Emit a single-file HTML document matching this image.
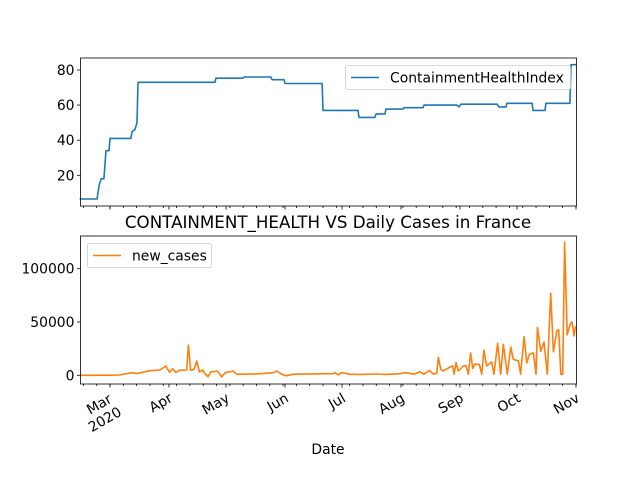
<!DOCTYPE html>
<html><head><meta charset="utf-8"><style>
body{margin:0;background:#fff}
svg text{font-family:"DejaVu Sans","Liberation Sans",sans-serif;fill:#000}
</style></head><body>
<svg width="640" height="480" viewBox="0 0 640 480" id="fig">
<rect x="0" y="0" width="640" height="480" fill="#fff"/>
<g id="topAxes"></g>
<g id="botAxes"></g>
<text x="328" y="228" font-size="16.7" text-anchor="middle">CONTAINMENT_HEALTH VS Daily Cases in France</text>
<text x="328" y="454" font-size="13.9" text-anchor="middle">Date</text>
</svg>
<script>
// days since 2020-03-01
const chiDays = [-16,-6.8,-5.8,-4.7,-3.2,-2.1,-0.5,0,11,11.6,13.1,14.2,14.7,55.2,55.7,69.9,70.5,84.6,85.2,91.5,92,111.5,112,130.4,130.9,139.3,139.9,144.6,145.1,154,154.6,164.6,165.1,182.4,183.5,184.5,203.5,204.5,208.2,208.7,221.9,222.4,228.7,229.2,241.8,242.4,245];
const chiValues = [6.5,6.5,14,18,18,34,34,41,41,45,46,50,73,73,75.3,75.3,76,76,74.5,74.5,72.3,72.3,57,57,53,53,55,55,57.7,57.7,58.5,58.5,60,60,59,60.5,60.5,59,59,61,61,57,57,61,61,83,83];
const caseDays = [-16,0,5,11.4,14,21,26.3,29.4,31.2,33,34.7,36.4,40.3,41.2,42.4,44.2,45.6,47,48.7,50.1,51.5,52.9,56.4,57.5,58.7,60.5,64.8,66.6,71.9,78.9,85.9,87.6,90.3,92.5,96.4,117.4,118.3,120,121.8,126,131.4,140,145,152.5,155,160,163,165,168,170,171.8,172.6,173.9,175.2,176.7,178.8,180.2,180.9,181.9,183.1,185.7,187.2,188.4,189.6,190.7,191.9,194.2,195.4,196.6,198,200.7,201.9,203.8,205.4,206.8,208.9,210.7,212,214.7,215.9,217.7,219.1,220.5,222.6,224,224.7,226.5,228.2,229.9,231.7,233.1,234.9,235.9,237,238,239,240.4,241.9,242.9,244,244.7];
const caseValues = [0,100,300,2400,1600,4300,5000,8700,3000,6000,2500,4700,5000,28400,4700,5600,13400,3000,5000,1200,-1300,3000,4000,1600,-1500,2400,4000,1000,1000,1500,2400,4000,1000,-500,1000,1500,2500,500,2500,1000,800,1200,800,1500,2500,1000,3500,1000,4500,1000,2000,16500,5600,4000,5600,7800,8700,1000,11800,4000,8700,9000,1000,21000,6500,10500,10000,1000,23700,8700,12500,1000,30000,1000,29000,1000,26500,15000,13500,1000,36200,11500,19800,21000,1000,44700,22500,31200,1000,77000,22000,41500,43000,1000,1000,125000,38000,47800,50000,37000,46000];
const monthDays = [0,31,61,92,122,153,184,214,245];
const monthLabels = ["Mar","Apr","May","Jun","Jul","Aug","Sep","Oct","Nov"];
const topTicks = [20,40,60,80];
const botTicks = [0,50000,100000];
const botTickLabels = ["0","50000","100000"];

const NS="http://www.w3.org/2000/svg";
const L=80.5,R=576.5;
const FS=13.9;
const X=d=>110+d*1.902;
const YT=v=>70+(80-v)*1.755;
const YB=v=>375.3-v/50000*53.3;
function mk(p,tag,attrs,txt){const e=document.createElementNS(NS,tag);for(const k in attrs)e.setAttribute(k,attrs[k]);if(txt!==undefined)e.textContent=txt;p.appendChild(e);return e;}
const topG=document.getElementById('topAxes'),botG=document.getElementById('botAxes');

function axes(g,y1){
  for(let d=-14;d<=245;d+=7){
    const t=mk(g,'line',{x1:X(d),x2:X(d),y1:y1,y2:y1+2,stroke:'#000','stroke-width':0.8});
    
    
  }
  monthDays.forEach((d)=>{
    const t=mk(g,'line',{x1:X(d),x2:X(d),y1:y1,y2:y1+3.5,stroke:'#000','stroke-width':0.8});
    
    
  });
}
axes(topG,206);
topTicks.forEach(v=>{
  const y=YT(v);
  const t=mk(topG,'line',{x1:L-3.5,x2:L,y1:y,y2:y,stroke:'#000','stroke-width':0.8});
  
  
  const tx=mk(topG,'text',{x:L-6,y:y+5,'font-size':FS,'text-anchor':'end'},String(v));
  
  
});
let pts=chiDays.map((d,i)=>X(d).toFixed(1)+','+YT(chiValues[i]).toFixed(1)).join(' ');
const l1=mk(topG,'polyline',{points:pts,fill:'none',stroke:'#1f77b4','stroke-width':1.6,'stroke-linejoin':'round'});


mk(topG,'rect',{x:L,y:58,width:R-L,height:148,fill:'none',stroke:'#000','stroke-width':0.8});
const lg1=mk(topG,'g',{});


mk(lg1,'rect',{x:345.5,y:65.5,width:225,height:24,rx:2,fill:'#fff','fill-opacity':0.8,stroke:'#ccc','stroke-width':0.8});
mk(lg1,'line',{x1:351,x2:379,y1:77.5,y2:77.5,stroke:'#1f77b4','stroke-width':1.6});
mk(lg1,'text',{x:390,y:82.5,'font-size':FS},'ContainmentHealthIndex');

axes(botG,384);
botTicks.forEach((v,i)=>{
  const y=YB(v);
  const t=mk(botG,'line',{x1:L-3.5,x2:L,y1:y,y2:y,stroke:'#000','stroke-width':0.8});
  
  
  const tx=mk(botG,'text',{x:L-6,y:y+5,'font-size':FS,'text-anchor':'end'},botTickLabels[i]);
  
  
});
pts=caseDays.map((d,i)=>X(d).toFixed(1)+','+YB(caseValues[i]).toFixed(1)).join(' ');
const l2=mk(botG,'polyline',{points:pts,fill:'none',stroke:'#ff7f0e','stroke-width':1.6,'stroke-linejoin':'round'});


mk(botG,'rect',{x:L,y:236,width:R-L,height:148,fill:'none',stroke:'#000','stroke-width':0.8});
const lg2=mk(botG,'g',{});


mk(lg2,'rect',{x:87.5,y:243.5,width:124,height:24,rx:2,fill:'#fff','fill-opacity':0.8,stroke:'#ccc','stroke-width':0.8});
mk(lg2,'line',{x1:93,x2:121,y1:255.5,y2:255.5,stroke:'#ff7f0e','stroke-width':1.6});
mk(lg2,'text',{x:132,y:260.5,'font-size':FS},'new_cases');

monthDays.forEach((d,i)=>{
  const x=X(d),y=393;
  const g=mk(botG,'g',{transform:`translate(${x},${y}) rotate(-30)`});
  
  
  if(i===0){
    mk(g,'text',{x:-15,y:9,'font-size':FS,'text-anchor':'middle'},monthLabels[i]);
    mk(g,'text',{x:0,y:25,'font-size':FS,'text-anchor':'end'},'2020');
  } else {
    mk(g,'text',{x:0,y:9,'font-size':FS,'text-anchor':'end'},monthLabels[i]);
  }
});
</script>
</body></html>
